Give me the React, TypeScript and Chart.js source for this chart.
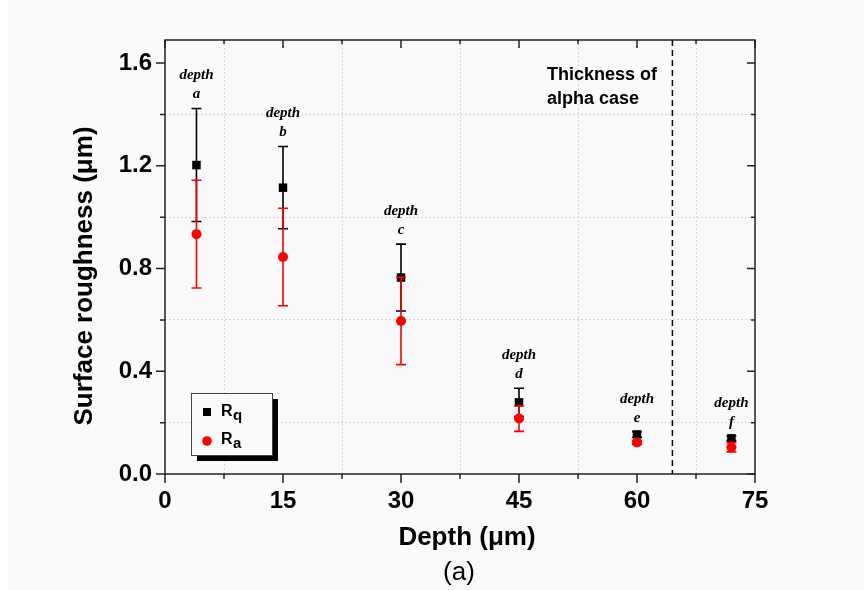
import React, { useEffect, useRef } from 'react';
import { Chart, registerables } from 'chart.js';

Chart.register(...registerables);

// ---- data ----
const depths = [4, 15, 30, 45, 60, 72];
const depthLetters = ['a', 'b', 'c', 'd', 'e', 'f'];
const rqValues = [1.203, 1.115, 0.765, 0.279, 0.154, 0.139];
const rqErrors = [0.22, 0.16, 0.13, 0.055, 0.011, 0.009];
const raValues = [0.934, 0.845, 0.596, 0.216, 0.123, 0.104];
const raErrors = [0.21, 0.19, 0.17, 0.05, 0.008, 0.018];
const alphaCaseThickness = 64.5;
const xMin = 0;
const xMax = 75;
const xStep = 7.5;
const xMajor = 15;
const yMin = 0;
const yMax = 1.69;
const yStep = 0.2;
const yMajor = 0.4;

const BG = '#faf9fc';
const SANS = '"Liberation Sans", Arial, Helvetica, sans-serif';
const SERIF = '"Liberation Serif", "Times New Roman", serif';

function isMajor(v: number, major: number) {
  const r = v / major;
  return Math.abs(r - Math.round(r)) < 1e-6;
}

const customPlugin = {
  id: 'customDraw',
  beforeDraw(chart: any) {
    const { ctx, width, height } = chart;
    ctx.save();
    ctx.fillStyle = BG;
    ctx.fillRect(0, 0, width, height);
    ctx.fillStyle = '#ffffff';
    ctx.fillRect(0, 0, 8, height);
    ctx.restore();
  },
  beforeDatasetsDraw(chart: any) {
    const { ctx, chartArea, scales } = chart;
    const x = scales.x.getPixelForValue(alphaCaseThickness);
    ctx.save();
    ctx.strokeStyle = '#000';
    ctx.lineWidth = 1.5;
    ctx.setLineDash([6, 4]);
    ctx.beginPath();
    ctx.moveTo(x, chartArea.top);
    ctx.lineTo(x, chartArea.bottom);
    ctx.stroke();
    ctx.restore();
  },
  beforeDatasetDraw(chart: any, args: any) {
    const ds = chart.data.datasets[args.index];
    const errs: number[] = ds.errorValues;
    const { ctx, scales } = chart;
    ctx.save();
    ctx.strokeStyle = ds.errorColor;
    ctx.lineWidth = 1.6;
    ds.data.forEach((p: any, i: number) => {
      const x = scales.x.getPixelForValue(p.x);
      const yt = scales.y.getPixelForValue(p.y + errs[i]);
      const yb = scales.y.getPixelForValue(p.y - errs[i]);
      ctx.beginPath();
      ctx.moveTo(x, yt);
      ctx.lineTo(x, yb);
      ctx.moveTo(x - 5, yt);
      ctx.lineTo(x + 5, yt);
      ctx.moveTo(x - 5, yb);
      ctx.lineTo(x + 5, yb);
      ctx.stroke();
    });
    ctx.restore();
  },
  afterDraw(chart: any) {
    const { ctx, chartArea: a, scales } = chart;
    const xs = scales.x;
    const ys = scales.y;
    ctx.save();
    // frame
    ctx.strokeStyle = '#222';
    ctx.lineWidth = 1.5;
    ctx.strokeRect(a.left, a.top, a.right - a.left, a.bottom - a.top);
    // ticks
    ctx.lineWidth = 1.5;
    ctx.beginPath();
    xs.ticks.forEach((t: any) => {
      const x = xs.getPixelForValue(t.value);
      const maj = isMajor(t.value, xMajor);
      ctx.moveTo(x, a.bottom);
      ctx.lineTo(x, a.bottom + (maj ? 9 : 5));
      ctx.moveTo(x, a.top);
      ctx.lineTo(x, a.top + (maj ? 8 : 4));
    });
    ys.ticks.forEach((t: any) => {
      const y = ys.getPixelForValue(t.value);
      const maj = isMajor(t.value, yMajor);
      ctx.moveTo(a.left, y);
      ctx.lineTo(a.left - (maj ? 9 : 5), y);
      ctx.moveTo(a.right, y);
      ctx.lineTo(a.right - (maj ? 8 : 4), y);
    });
    ctx.stroke();

    // axis titles
    ctx.fillStyle = '#000';
    ctx.textAlign = 'center';
    ctx.textBaseline = 'middle';
    ctx.font = `bold 26px ${SANS}`;
    ctx.save();
    ctx.translate(85, 276);
    ctx.rotate(-Math.PI / 2);
    ctx.fillText('Surface roughness (\u03bcm)', 0, 0);
    ctx.restore();
    ctx.fillText('Depth (\u03bcm)', 467, 538);
    ctx.font = `26px ${SANS}`;
    ctx.fillText('(a)', 459, 573);

    // alpha case annotation
    ctx.textAlign = 'left';
    ctx.font = `bold 18px ${SANS}`;
    ctx.fillText('Thickness of', 547, 75);
    ctx.fillText('alpha case', 547, 99);

    // depth annotations
    ctx.textAlign = 'center';
    ctx.font = `italic bold 15px ${SERIF}`;
    depths.forEach((d, i) => {
      const x = xs.getPixelForValue(d);
      const top = Math.min(
        ys.getPixelForValue(rqValues[i] + rqErrors[i]),
        ys.getPixelForValue(raValues[i] + raErrors[i])
      );
      ctx.fillText('depth', x, top - 33);
      ctx.fillText(depthLetters[i], x, top - 14);
    });

    // legend
    const lx = 191, ly = 393, lw = 81, lh = 62;
    ctx.fillStyle = '#000';
    ctx.fillRect(lx + 6, ly + 6, lw, lh);
    ctx.fillStyle = BG;
    ctx.fillRect(lx, ly, lw, lh);
    ctx.strokeStyle = '#444';
    ctx.lineWidth = 1;
    ctx.strokeRect(lx + 0.5, ly + 0.5, lw, lh);
    // Rq
    ctx.fillStyle = '#000';
    ctx.fillRect(203, 408, 8, 8);
    ctx.textAlign = 'left';
    ctx.textBaseline = 'alphabetic';
    ctx.font = `bold 16px ${SANS}`;
    ctx.fillText('R', 221, 416);
    ctx.font = `bold 15px ${SANS}`;
    ctx.fillText('q', 233, 420);
    // Ra
    ctx.fillStyle = '#ff0000';
    ctx.beginPath();
    ctx.arc(207, 441, 4.8, 0, Math.PI * 2);
    ctx.fill();
    ctx.fillStyle = '#000';
    ctx.font = `bold 16px ${SANS}`;
    ctx.fillText('R', 221, 444);
    ctx.font = `bold 15px ${SANS}`;
    ctx.fillText('a', 233, 448);
    ctx.restore();
  },
};

export default function App() {
  const ref = useRef<HTMLCanvasElement>(null);
  useEffect(() => {
    if (!ref.current) return;
    const chart = new Chart(ref.current, {
      type: 'scatter',
      data: {
        datasets: [
          {
            label: 'Ra',
            data: depths.map((d, i) => ({ x: d, y: raValues[i] })),
            pointStyle: 'circle',
            pointRadius: 5,
            pointHoverRadius: 5,
            backgroundColor: '#ff0000',
            borderColor: '#ff0000',
            borderWidth: 0,
            order: 0,
            errorValues: raErrors,
            errorColor: '#ff0000',
          } as any,
          {
            label: 'Rq',
            data: depths.map((d, i) => ({ x: d, y: rqValues[i] })),
            pointStyle: 'rect',
            pointRadius: 6,
            pointHoverRadius: 6,
            backgroundColor: '#000000',
            borderColor: '#000000',
            borderWidth: 0,
            order: 1,
            errorValues: rqErrors,
            errorColor: '#000000',
          } as any,
        ],
      },
      options: {
        animation: false,
        responsive: false,
        events: [],
        layout: { padding: { top: 40, right: 109, left: 0, bottom: 0 } },
        plugins: {
          legend: { display: false },
          tooltip: { enabled: false },
        },
        scales: {
          x: {
            type: 'linear',
            min: xMin,
            max: xMax,
            afterFit: (s: any) => {
              s.height = 116;
            },
            ticks: {
              stepSize: xStep,
              autoSkip: false,
              includeBounds: false,
              maxRotation: 0,
              padding: 13,
              color: '#000',
              font: { family: SANS, size: 24, weight: 'bold' },
              callback: (v: any) => (isMajor(Number(v), xMajor) ? String(Math.round(Number(v))) : ''),
            },
            grid: {
              drawTicks: false,
              lineWidth: 1,
              color: (c: any) => (c.tick && !isMajor(c.tick.value, xMajor) ? '#d4d4d8' : 'rgba(0,0,0,0)'),
            },
            border: { display: false, dash: [2, 2] },
          },
          y: {
            type: 'linear',
            min: yMin,
            max: yMax,
            afterFit: (s: any) => {
              s.width = 165;
            },
            ticks: {
              stepSize: yStep,
              autoSkip: false,
              includeBounds: false,
              padding: 13,
              color: '#000',
              font: { family: SANS, size: 24, weight: 'bold' },
              callback: (v: any) => (isMajor(Number(v), yMajor) ? Number(v).toFixed(1) : ''),
            },
            grid: {
              drawTicks: false,
              lineWidth: 1,
              color: (c: any) => (c.tick && !isMajor(c.tick.value, yMajor) ? '#d4d4d8' : 'rgba(0,0,0,0)'),
            },
            border: { display: false, dash: [2, 2] },
          },
        },
      },
      plugins: [customPlugin],
    });
    return () => chart.destroy();
  }, []);
  return (
    <div style={{ position: 'fixed', left: 0, top: 0, width: 864, height: 590 }}>
      <canvas ref={ref} width={864} height={590} style={{ display: 'block' }} />
    </div>
  );
}
